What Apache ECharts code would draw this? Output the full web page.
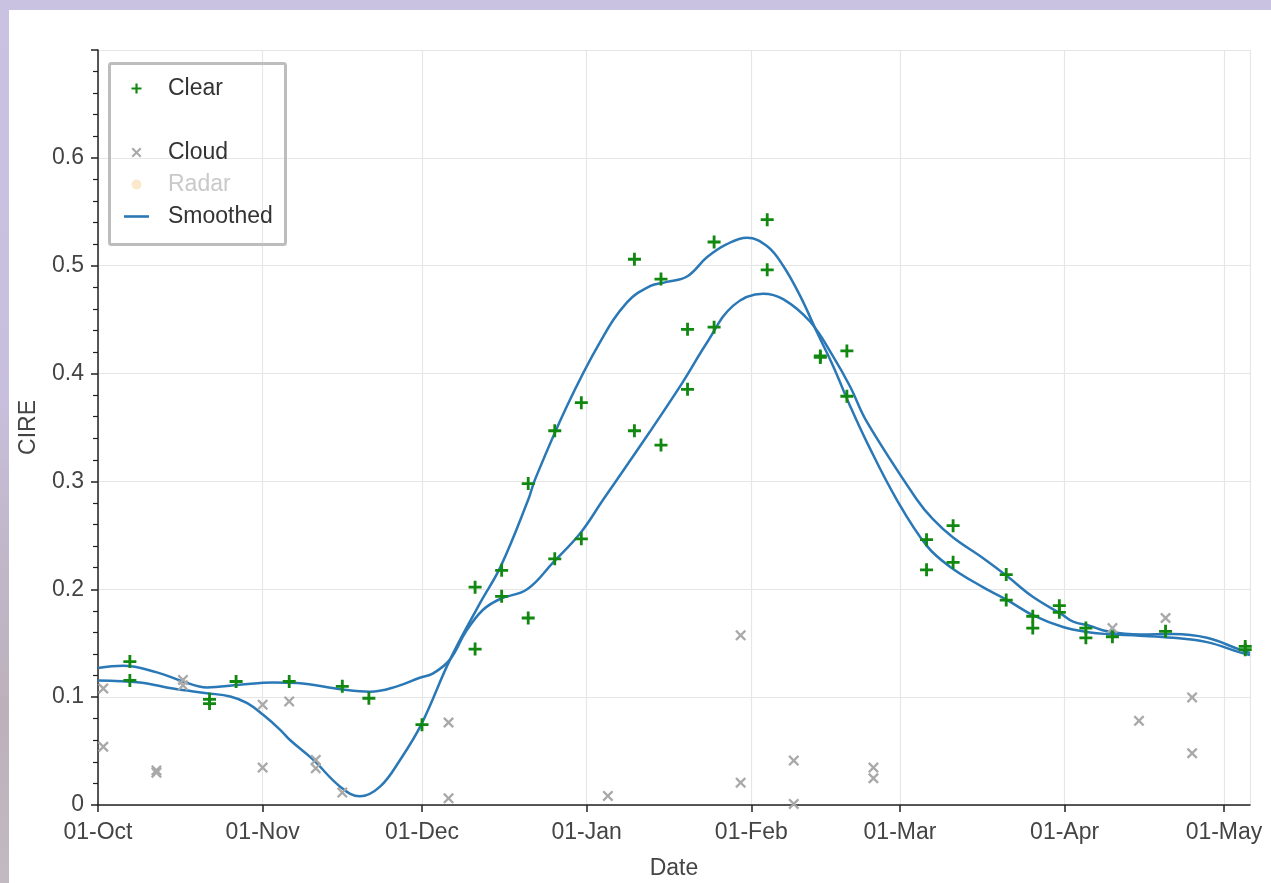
<!DOCTYPE html>
<html>
<head>
<meta charset="utf-8">
<title>CIRE time series</title>
<script src="https://cdn.jsdelivr.net/npm/echarts@6/dist/echarts.min.js"></script>
<style>
  html, body { margin: 0; padding: 0; width: 1271px; height: 883px; overflow: hidden; }
  #backdrop {
    position: absolute; left: 0; top: 0; width: 1271px; height: 883px;
    background: linear-gradient(180deg, #c9c2e1 0%, #c7bfdc 45%, #c2b8cc 60%, #bcb1bb 80%, #c3b9c0 100%);
  }
  #panel {
    position: absolute; left: 9px; top: 10px; width: 1262px; height: 873px;
    background: #ffffff;
  }
  #chart { position: absolute; left: 0; top: 0; width: 1271px; height: 883px; }
</style>
</head>
<body>
<div id="backdrop"></div>
<div id="panel"></div>
<div id="chart"></div>
<script>
// Observations: [date, CIRE]
const clearPoints = [
  ['2018-10-07', 0.133], ['2018-10-07', 0.1155],
  ['2018-10-22', 0.098], ['2018-10-22', 0.094],
  ['2018-10-27', 0.1145],
  ['2018-11-06', 0.1145],
  ['2018-11-16', 0.110],
  ['2018-11-21', 0.099],
  ['2018-12-01', 0.0745],
  ['2018-12-11', 0.202], ['2018-12-11', 0.1446],
  ['2018-12-16', 0.2176], ['2018-12-16', 0.1935],
  ['2018-12-21', 0.298], ['2018-12-21', 0.1734],
  ['2018-12-26', 0.347], ['2018-12-26', 0.2282],
  ['2018-12-31', 0.373], ['2018-12-31', 0.2468],
  ['2019-01-10', 0.506], ['2019-01-10', 0.347],
  ['2019-01-15', 0.4876], ['2019-01-15', 0.3337],
  ['2019-01-20', 0.441], ['2019-01-20', 0.3854],
  ['2019-01-25', 0.522], ['2019-01-25', 0.443],
  ['2019-02-04', 0.5427], ['2019-02-04', 0.4962],
  ['2019-02-14', 0.4164], ['2019-02-14', 0.415],
  ['2019-02-19', 0.421], ['2019-02-19', 0.379],
  ['2019-03-06', 0.246], ['2019-03-06', 0.218],
  ['2019-03-11', 0.259], ['2019-03-11', 0.225],
  ['2019-03-21', 0.2136], ['2019-03-21', 0.190],
  ['2019-03-26', 0.175], ['2019-03-26', 0.164],
  ['2019-03-31', 0.1848], ['2019-03-31', 0.1786],
  ['2019-04-05', 0.164], ['2019-04-05', 0.155],
  ['2019-04-10', 0.156],
  ['2019-04-20', 0.161],
  ['2019-05-05', 0.147], ['2019-05-05', 0.144]
];

const cloudPoints = [
  ['2018-10-02', 0.108], ['2018-10-02', 0.054],
  ['2018-10-12', 0.032], ['2018-10-12', 0.030],
  ['2018-10-17', 0.116], ['2018-10-17', 0.111],
  ['2018-11-01', 0.093], ['2018-11-01', 0.0347],
  ['2018-11-06', 0.096],
  ['2018-11-11', 0.0418], ['2018-11-11', 0.034],
  ['2018-11-16', 0.0115],
  ['2018-12-06', 0.0765], ['2018-12-06', 0.0062],
  ['2019-01-05', 0.0084],
  ['2019-01-30', 0.1573], ['2019-01-30', 0.0207],
  ['2019-02-09', 0.0412], ['2019-02-09', 0.001],
  ['2019-02-24', 0.0347], ['2019-02-24', 0.0248],
  ['2019-04-10', 0.164],
  ['2019-04-15', 0.078],
  ['2019-04-20', 0.1734],
  ['2019-04-25', 0.0997], ['2019-04-25', 0.048]
];

const radarPoints = [];

// Smoothed curves: [days since season start, CIRE]
const seasonStart = [2018, 9, 1];
const seasonLengthDays = 216.9;

const smoothedA = [
  [0, 0.1155], [7.9, 0.1136], [14.1, 0.108], [20.5, 0.1037], [24.9, 0.1006],
  [28.1, 0.0945], [31.1, 0.0836], [34.3, 0.0697], [36.2, 0.060], [40.5, 0.042],
  [45.6, 0.017], [49.3, 0.008], [53.1, 0.017], [56.9, 0.042], [60.9, 0.075],
  [66.3, 0.135], [71.9, 0.187], [75.8, 0.221], [81.0, 0.283], [82.3, 0.302],
  [88.3, 0.370], [94.5, 0.429], [99.6, 0.466], [103.9, 0.481], [107.1, 0.485],
  [110.9, 0.490], [114.7, 0.508], [118.4, 0.520], [122.2, 0.526], [126.0, 0.518],
  [129.0, 0.500], [132.2, 0.472], [135.4, 0.438], [138.4, 0.407], [141.6, 0.370],
  [144.8, 0.336], [150.4, 0.283], [156.1, 0.240], [160.4, 0.221],
  [166.6, 0.202], [171.2, 0.190], [176.0, 0.176], [181.7, 0.165], [186.8, 0.160],
  [190.0, 0.1585], [196.2, 0.157], [202.4, 0.155], [208.8, 0.151], [215.0, 0.1415],
  [216.9, 0.139]
];

const smoothedB = [
  [0, 0.127], [4.7, 0.129], [11.1, 0.123], [16.0, 0.1145], [20.5, 0.109],
  [26.7, 0.1115], [33.0, 0.1136], [37.5, 0.113], [46.1, 0.107], [51.2, 0.105],
  [56.3, 0.110], [60.6, 0.118], [63.1, 0.122], [66.3, 0.135], [69.3, 0.161],
  [72.5, 0.181], [75.7, 0.191], [80.8, 0.200], [85.7, 0.225], [90.8, 0.252],
  [95.1, 0.283], [103.9, 0.346], [110.1, 0.392], [114.7, 0.429],
  [119.6, 0.463], [125.2, 0.474], [129.0, 0.469], [134.1, 0.448], [138.4, 0.416],
  [141.6, 0.388], [144.8, 0.355], [154.2, 0.283], [157.2, 0.265],
  [161.0, 0.248], [166.6, 0.229], [171.2, 0.212], [176.0, 0.193], [181.7, 0.176],
  [183.6, 0.170], [186.8, 0.166], [190.0, 0.161], [196.2, 0.158], [202.4, 0.1585],
  [208.8, 0.155], [215.0, 0.144], [216.9, 0.141]
];

const yTicks = { min: 0, max: 0.7, interval: 0.1 };

const DAY_MS = 86400000;
const t0 = new Date(seasonStart[0], seasonStart[1], seasonStart[2]).getTime();
const toTime = (d) => t0 + d * DAY_MS;
const curve = (pts) => pts.map(([d, v]) => [toTime(d), v]);

const FONT = "'Liberation Sans', Arial, Helvetica, sans-serif";
const PLUS = 'path://M-1.3,-6 L1.3,-6 L1.3,-1.3 L6,-1.3 L6,1.3 L1.3,1.3 L1.3,6 L-1.3,6 L-1.3,1.3 L-6,1.3 L-6,-1.3 L-1.3,-1.3 Z';
const CROSS = 'path://M-5,-3.5 L-3.5,-5 L0,-1.5 L3.5,-5 L5,-3.5 L1.5,0 L5,3.5 L3.5,5 L0,1.5 L-3.5,5 L-5,3.5 L-1.5,0 Z';
const LINE_ICON = 'path://M0,0 L25,0 L25,2.6 L0,2.6 Z';
const GREEN = '#11880f';
const GREY = '#a9a9a9';
const BLUE = '#2a78b6';
const SPACER = '\u00a0';

const chart = echarts.init(document.getElementById('chart'), null, { renderer: 'canvas' });

chart.setOption({
  backgroundColor: 'transparent',
  animation: false,
  textStyle: { fontFamily: FONT },
  grid: {
    left: 98, top: 50, right: 21, bottom: 78,
    containLabel: false,
    outerBoundsMode: 'none'
  },
  legend: {
    orient: 'vertical',
    left: 124,
    top: 77,
    padding: 0,
    itemWidth: 25,
    itemHeight: 10,
    itemGap: 9,
    selectedMode: false,
    textStyle: { fontFamily: FONT, fontSize: 23, color: '#333', padding: [0, 0, 0, 14] },
    data: [
      { name: 'Clear', icon: PLUS },
      { name: SPACER, icon: 'none' },
      { name: 'Cloud', icon: CROSS },
      { name: 'Radar', icon: 'circle', itemStyle: { color: '#fbe2c0' }, textStyle: { color: '#c9c9c9' } },
      { name: 'Smoothed', icon: LINE_ICON }
    ]
  },
  graphic: [{
    type: 'rect',
    left: 107, top: 61,
    shape: { width: 176, height: 181, r: 2 },
    style: { fill: 'none', stroke: '#bdbdbd', lineWidth: 3 },
    z: 100
  }],
  xAxis: {
    type: 'time',
    min: toTime(0),
    max: toTime(seasonLengthDays),
    splitNumber: 7,
    name: 'Date',
    nameLocation: 'middle',
    nameGap: 52,
    nameTextStyle: { fontFamily: FONT, fontSize: 23, color: '#444' },
    axisLine: { lineStyle: { color: '#222', width: 1.5 } },
    axisTick: { show: true, length: 7, lineStyle: { color: '#222', width: 1.5 } },
    axisLabel: {
      formatter: '{dd}-{MMM}',
      fontFamily: FONT, fontSize: 23, color: '#444',
      margin: 16,
      showMaxLabel: false,
      hideOverlap: false
    },
    splitLine: { show: true, lineStyle: { color: '#e6e6e6', width: 1.2 } }
  },
  yAxis: {
    type: 'value',
    min: yTicks.min,
    max: yTicks.max,
    interval: yTicks.interval,
    name: 'CIRE',
    nameLocation: 'middle',
    nameGap: 58,
    nameTextStyle: { fontFamily: FONT, fontSize: 23, color: '#444' },
    axisLine: { show: true, lineStyle: { color: '#222', width: 1.5 } },
    axisTick: { show: true, length: 7, lineStyle: { color: '#222', width: 1.5 } },
    minorTick: { show: true, splitNumber: 5, length: 5, lineStyle: { color: '#222', width: 1.2 } },
    axisLabel: {
      fontFamily: FONT, fontSize: 23, color: '#444', margin: 14,
      showMaxLabel: false,
      formatter: (v) => (v === 0 ? '0' : v.toFixed(1))
    },
    splitLine: { show: true, lineStyle: { color: '#e6e6e6', width: 1.2 } }
  },
  series: [
    {
      name: 'Smoothed', type: 'line', data: curve(smoothedA), smooth: 0.4,
      showSymbol: false, symbol: 'none',
      lineStyle: { color: BLUE, width: 2.5 }, itemStyle: { color: BLUE }, z: 2
    },
    {
      name: 'Smoothed', type: 'line', data: curve(smoothedB), smooth: 0.4,
      showSymbol: false, symbol: 'none',
      lineStyle: { color: BLUE, width: 2.5 }, itemStyle: { color: BLUE }, z: 2
    },
    {
      name: 'Clear', type: 'scatter', data: clearPoints,
      symbol: PLUS, symbolSize: 13, itemStyle: { color: GREEN, opacity: 1 }, z: 4
    },
    {
      name: SPACER, type: 'scatter', data: []
    },
    {
      name: 'Cloud', type: 'scatter', data: cloudPoints,
      symbol: CROSS, symbolSize: 11, itemStyle: { color: GREY, opacity: 1 }, z: 3
    },
    {
      name: 'Radar', type: 'scatter', data: radarPoints,
      symbol: 'circle', symbolSize: 6, itemStyle: { color: '#fbe2c0' }, z: 3
    }
  ]
});
</script>
</body>
</html>
